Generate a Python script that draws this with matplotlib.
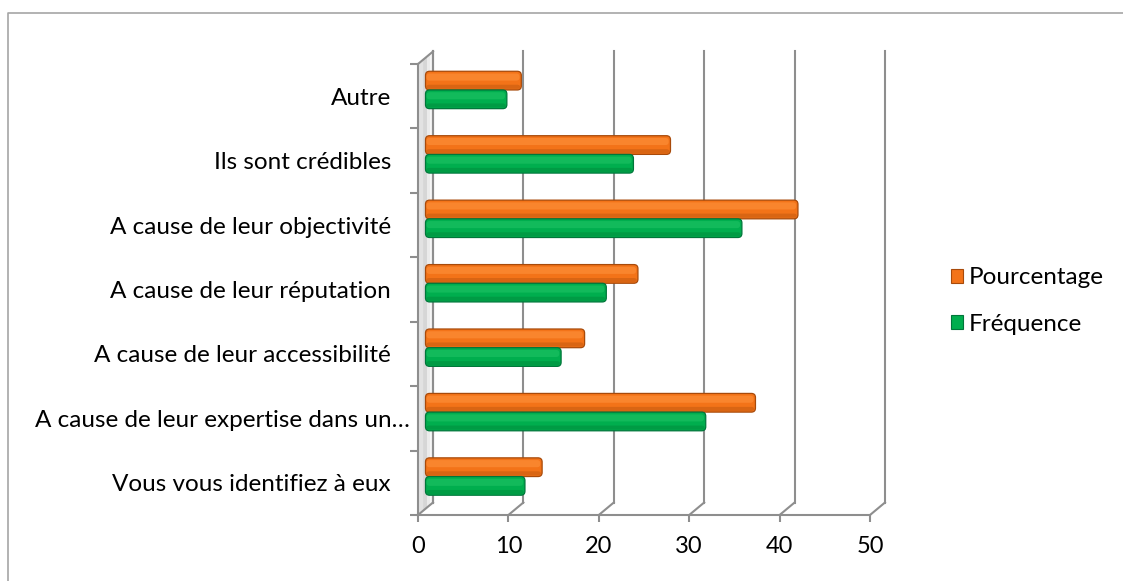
import matplotlib
matplotlib.use("Agg")
import matplotlib.pyplot as plt
from matplotlib.patches import FancyBboxPatch, Polygon, Patch
from matplotlib.lines import Line2D

# ---- data -------------------------------------------------------------
categories = [
    "Vous vous identifiez à eux",
    "A cause de leur expertise dans un…",
    "A cause de leur accessibilité",
    "A cause de leur réputation",
    "A cause de leur objectivité",
    "Ils sont crédibles",
    "Autre",
]
frequence = [11, 31, 15, 20, 35, 23, 9]
pourcentage = [12.9, 36.5, 17.6, 23.5, 41.2, 27.1, 10.6]
x_ticks = [0, 10, 20, 30, 40, 50]
series_names = ["Pourcentage", "Fréquence"]

# ---- styling ----------------------------------------------------------
plt.rcParams['font.family'] = ['Lato', 'DejaVu Sans']
W, H, DPI = 1123, 581, 100
LINE = '#8E8E8E'
ORANGE = dict(body='#F37318', light='#FF9440', dark='#C45A10', edge='#A84A0A')
GREEN = dict(body='#00AE4E', light='#21C466', dark='#008C3C', edge='#00763A')
FS = 17.5

fig = plt.figure(figsize=(W / DPI, H / DPI), dpi=DPI)
fig.patch.set_facecolor('white')

# chart frame
fig.add_artist(Line2D([8 / W, 8 / W, 1.0], [0.0, 1 - 13 / H, 1 - 13 / H],
                      transform=fig.transFigure, color='#A6A6A6', lw=1.2))

# front plane of the plot area, in pixels
x0, x1 = 418, 870
y_bot, y_top = 515, 64
ax = fig.add_axes([x0 / W, (H - y_bot) / H, (x1 - x0) / W, (y_bot - y_top) / H])
ax.set_xlim(0, 50)
ax.set_ylim(0, len(categories))
ax.patch.set_visible(False)

# pixel size of one data unit, and the depth offset of the back wall
ux = (x1 - x0) / 50.0
uy = (y_bot - y_top) / len(categories)
DX = 15 / ux
DY = 12.5 / uy
n = len(categories)

# left wall (soft shading) and its edges
for frac, col in [(0.0, '#E2E2E2'), (0.35, '#D6D6D6'), (0.6, '#EBEBEB'), (0.8, '#F7F7F7')]:
    ax.add_patch(Polygon([(DX * frac, DY * frac), (DX, DY), (DX, n + DY), (DX * frac, n + DY * frac)],
                         closed=True, facecolor=col, edgecolor='none', zorder=0.5, clip_on=False))
ax.plot([DX, DX], [DY, n + DY], color=LINE, lw=1.5, clip_on=False, zorder=1)
ax.plot([0, DX], [n, n + DY], color=LINE, lw=1.5, clip_on=False, zorder=1)

# back-wall gridlines and floor edges
for v in x_ticks:
    ax.plot([v + DX, v + DX], [DY, n + DY], color=LINE, lw=1.5, clip_on=False, zorder=1)
    ax.plot([v, v + DX], [0, DY], color=LINE, lw=1.5, clip_on=False, zorder=1)

# bars, drawn in the mid-depth plane
bh = 0.29
a = ux / uy


def bar(xs, ys, w, style):
    if w <= 0:
        return
    ax.add_patch(FancyBboxPatch((xs, ys), w, bh,
                                boxstyle="round,pad=0,rounding_size=0.45",
                                mutation_aspect=a, facecolor=style['body'],
                                edgecolor=style['edge'], lw=0.9, zorder=3, clip_on=False))
    # lower shade
    ax.add_patch(FancyBboxPatch((xs + 0.05, ys + bh * 0.06), max(w - 0.15, 0.1), bh * 0.22,
                                boxstyle="round,pad=0,rounding_size=0.35",
                                mutation_aspect=a, facecolor=style['dark'],
                                edgecolor='none', alpha=0.55, zorder=4, clip_on=False))
    # upper highlight
    ax.add_patch(FancyBboxPatch((xs + 0.1, ys + bh * 0.5), max(w - 0.3, 0.1), bh * 0.38,
                                boxstyle="round,pad=0,rounding_size=0.35",
                                mutation_aspect=a, facecolor=style['light'],
                                edgecolor='none', alpha=0.55, zorder=4, clip_on=False))


for i in range(n):
    c = i + 0.5 + DY / 2
    bar(DX / 2, c, pourcentage[i], ORANGE)
    bar(DX / 2, c - bh, frequence[i], GREEN)

# front axes
for s in ('top', 'right'):
    ax.spines[s].set_visible(False)
for s in ('left', 'bottom'):
    ax.spines[s].set_color(LINE)
    ax.spines[s].set_linewidth(1.5)
    ax.spines[s].set_zorder(2)

ax.set_xticks(x_ticks)
ax.set_xticklabels([str(t) for t in x_ticks], fontsize=17)
ax.set_yticks(range(n + 1))
ax.set_yticklabels([])
ax.tick_params(axis='x', length=5.0, width=1.5, color=LINE, pad=10)
ax.tick_params(axis='y', length=5.8, width=1.5, color=LINE)

for i, name in enumerate(categories):
    # Truncated labels let the ellipsis run closer to the axis
    off = -8 if name.endswith('…') else -27
    ax.annotate(name, xy=(0, i + 0.5), xytext=(off, -2), textcoords='offset pixels',
                ha='right', va='center', fontsize=FS, color='#000000', annotation_clip=False)

# legend
handles = [Patch(facecolor=ORANGE['body'], edgecolor=ORANGE['edge'], lw=0.8),
           Patch(facecolor=GREEN['body'], edgecolor=GREEN['edge'], lw=0.8)]
fig.legend(handles, series_names, loc='center left',
           bbox_to_anchor=(951 / W, 1 - 301 / H), bbox_transform=fig.transFigure,
           frameon=False, fontsize=FS, handlelength=0.5, handleheight=0.5,
           handletextpad=0.22, labelspacing=1.03, borderpad=0, borderaxespad=0)

fig.savefig('out.png', dpi=DPI)
